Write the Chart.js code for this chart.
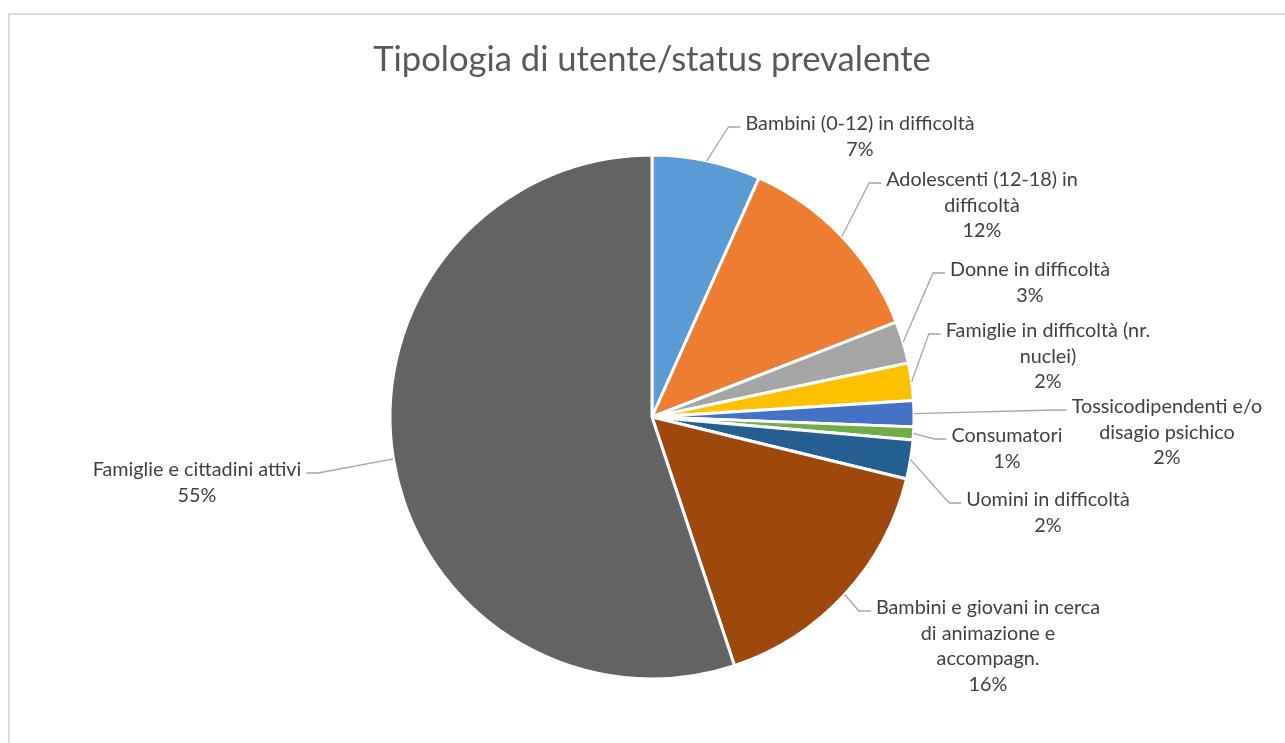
<!DOCTYPE html>
<html>
<head>
<meta charset="utf-8">
<script src="https://cdn.jsdelivr.net/npm/chart.js@4"></script>
<style>
    html, body { margin: 0; padding: 0; background: #fff; overflow: hidden; }
    #frame { position: absolute; left: 8px; top: 13px; width: 1400px; height: 900px; border: 2px solid #d9d9d9; box-sizing: border-box; }
    #wrap { position: absolute; left: 0; top: 0; width: 1285px; height: 743px; }
</style>
</head>
<body>
<div id="frame"></div>
<div id="wrap"><canvas id="chart-tipologia"></canvas></div>
<script>
'use strict';

// Categorie (ordine orario dalle ore 12)
var categories = [
    'Bambini (0-12) in difficoltà',
    'Adolescenti (12-18) in difficoltà',
    'Donne in difficoltà',
    'Famiglie in difficoltà (nr. nuclei)',
    'Tossicodipendenti e/o disagio psichico',
    'Consumatori',
    'Uomini in difficoltà',
    'Bambini e giovani in cerca di animazione e accompagn.',
    'Famiglie e cittadini attivi'
];
// Quote stimate dagli angoli delle fette (%)
var values = [6.7, 12.4, 2.6, 2.3, 1.6, 0.8, 2.4, 16.1, 55.1];
// Righe delle etichette come a capo nel grafico originale
var labelLines = [
    ['Bambini (0-12) in difficoltà'],
    ['Adolescenti (12-18) in', 'difficoltà'],
    ['Donne in difficoltà'],
    ['Famiglie in difficoltà (nr.', 'nuclei)'],
    ['Tossicodipendenti e/o', 'disagio psichico'],
    ['Consumatori'],
    ['Uomini in difficoltà'],
    ['Bambini e giovani in cerca', 'di animazione e', 'accompagn.'],
    ['Famiglie e cittadini attivi']
];
var title = 'Tipologia di utente/status prevalente';

var colors = ['#5b9bd5', '#ed7d31', '#a5a5a5', '#ffc000', '#4472c4', '#70ad47', '#255e91', '#9e480e', '#636363'];
// posizione etichetta: centro testo rispetto al centro torta (dx, dy prima riga)
var labelOffsets = [[208, -293], [330, -237], [378, -147], [396, -86], [515, -10], [355, 19], [396, 83], [336, 191], [-455, 53]];

var FONT = 'Lato, "Open Sans", sans-serif';
var TITLE_COLOR = '#595959';
var LABEL_COLOR = '#404040';

var outsideLabels = {
    id: 'outsideLabels',
    afterDatasetsDraw: function(chart) {
        var ctx = chart.ctx;
        var meta = chart.getDatasetMeta(0);
        var total = values.reduce(function(a, b) { return a + b; }, 0);
        var lh = 25.5;
        ctx.save();
        ctx.textAlign = 'center';
        ctx.textBaseline = 'middle';

        // titolo centrato sulla torta
        var c = meta.data[0].getProps(['x', 'y', 'outerRadius'], true);
        ctx.font = '34.6px ' + FONT;
        ctx.fillStyle = TITLE_COLOR;
        ctx.fillText(title, c.x, c.y - c.outerRadius - 95);

        ctx.font = '19.8px ' + FONT;
        meta.data.forEach(function(arc, i) {
            var p = arc.getProps(['x', 'y', 'startAngle', 'endAngle', 'outerRadius'], true);
            var mid = (p.startAngle + p.endAngle) / 2;
            var sx = p.x + Math.cos(mid) * p.outerRadius;
            var sy = p.y + Math.sin(mid) * p.outerRadius;
            var cx = p.x + labelOffsets[i][0];
            var cy = p.y + labelOffsets[i][1];
            var lines = labelLines[i].concat([Math.round(values[i] / total * 100) + '%']);

            var w0 = ctx.measureText(lines[0]).width;
            var right = labelOffsets[i][0] > 0;
            var ex = right ? cx - w0 / 2 - 5 : cx + w0 / 2 + 5;
            var ey = cy + 3;
            var kx = right ? ex - 12 : ex + 12;

            ctx.strokeStyle = '#a6a6a6';
            ctx.lineWidth = 1.3;
            ctx.beginPath();
            ctx.moveTo(sx, sy);
            ctx.lineTo(kx, ey);
            ctx.lineTo(ex, ey);
            ctx.stroke();

            ctx.fillStyle = LABEL_COLOR;
            lines.forEach(function(t, k) {
                ctx.fillText(t, cx, cy + k * lh);
            });
        });
        ctx.restore();
    }
};

new Chart(document.getElementById('chart-tipologia'), {
    type: 'pie',
    data: {
        labels: categories,
        datasets: [{
            data: values,
            backgroundColor: colors,
            borderColor: '#ffffff',
            borderWidth: 3,
            hoverOffset: 0
        }]
    },
    options: {
        responsive: true,
        maintainAspectRatio: false,
        animation: false,
        radius: 262,
        layout: { padding: { top: 155, bottom: 64, left: 390, right: 371 } },
        plugins: {
            legend: { display: false },
            tooltip: { enabled: false },
            title: { display: false }
        }
    },
    plugins: [outsideLabels]
});
</script>
</body>
</html>
